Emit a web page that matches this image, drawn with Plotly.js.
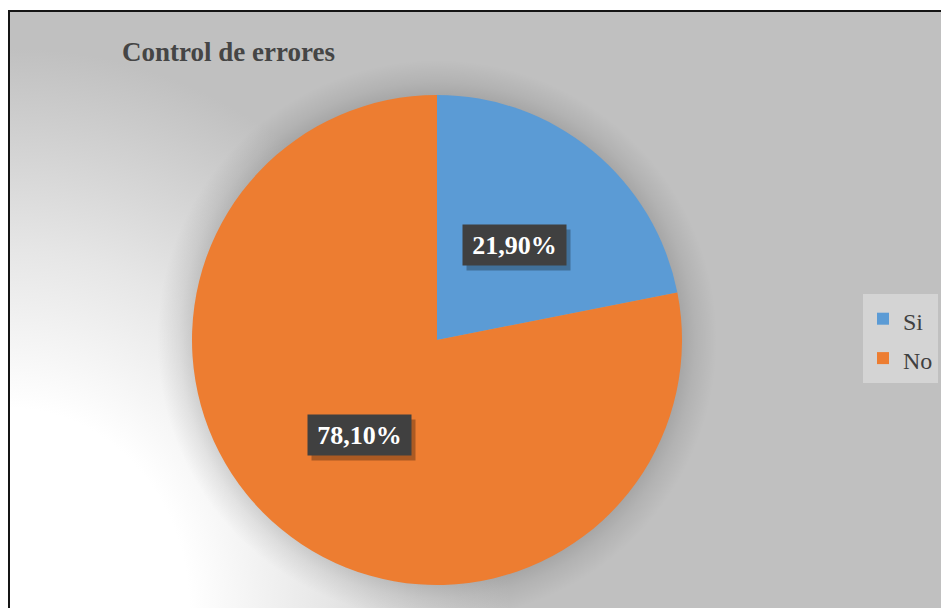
<!DOCTYPE html>
<html>
<head>
<meta charset="utf-8">
<script src="https://cdn.plot.ly/plotly-3.0.1.min.js"></script>
<style>
  html, body { margin:0; padding:0; width:941px; height:608px; overflow:hidden; background:#ffffff; }
  #bg {
    position:absolute; left:8px; top:10px; width:1000px; height:700px;
    border-left:2px solid #151515; border-top:2px solid #151515;
    background:
      radial-gradient(circle at 427px 328px, rgba(0,0,0,0.14) 243px, rgba(0,0,0,0.07) 258px, rgba(0,0,0,0) 280px),
      radial-gradient(ellipse 640px 720px at 0px 598px, #ffffff 0%, #ffffff 28%, #e6e6e6 50%, #c0c0c0 78%),
      #c0c0c0;
  }
  #chart { position:absolute; left:0; top:0; width:941px; height:608px; }
</style>
</head>
<body>
<div id="bg"></div>
<div id="chart"></div>
<script>
const chartTitle = 'Control de errores';
const categories = ['Si', 'No'];
const values = [21.9, 78.1];
const colors = ['#5b9bd5', '#ed7d31'];

const W = 941, H = 608;
const cxPx = 437, cyPx = 340, Rpx = 245;
const domX = [(cxPx - Rpx) / W, (cxPx + Rpx) / W];
const domY = [1 - (cyPx + Rpx) / H, 1 - (cyPx - Rpx) / H];

const total = values.reduce((a, b) => a + b, 0);
const annotations = [];
let cum = 0;
values.forEach((v, i) => {
  const mid = (cum + v / 2) / total * 2 * Math.PI;
  cum += v;
  const px = cxPx + 0.5 * Rpx * Math.sin(mid);
  const py = cyPx - 0.5 * Rpx * Math.cos(mid);
  const label = v.toFixed(2).replace('.', ',') + '%';
  const base = {
    xref: 'paper', yref: 'paper', x: px / W, y: 1 - py / H,
    xanchor: 'center', yanchor: 'middle', showarrow: false,
    width: 97, height: 34, borderpad: 3,
    font: { family: 'Liberation Serif, Times New Roman, serif', size: 26, color: '#ffffff' }
  };
  annotations.push(Object.assign({}, base, {
    text: '&nbsp;', xshift: 4, yshift: -5, bgcolor: 'rgba(0,0,0,0.28)'
  }));
  annotations.push(Object.assign({}, base, { text: '<b>' + label + '</b>', bgcolor: '#404040' }));
});

const trace = {
  type: 'pie',
  labels: categories.map(c => '<span style="font-size:24px">' + c + '</span>'),
  values: values,
  sort: false,
  direction: 'clockwise',
  rotation: 0,
  marker: { colors: colors, line: { width: 0 } },
  textinfo: 'none',
  hoverinfo: 'label+percent',
  domain: { x: domX, y: domY }
};

const layout = {
  width: W, height: H,
  margin: { l: 0, r: 0, t: 0, b: 0 },
  paper_bgcolor: 'rgba(0,0,0,0)',
  plot_bgcolor: 'rgba(0,0,0,0)',
  title: {
    text: '<b>' + chartTitle + '</b>',
    xref: 'paper', yref: 'paper', x: 122 / W, xanchor: 'left',
    y: 1 - 52 / H, yanchor: 'middle',
    font: { family: 'Liberation Serif, Times New Roman, serif', size: 27, color: '#454545' }
  },
  showlegend: true,
  legend: {
    x: 863 / W, xanchor: 'left', y: 1 - 294 / H, yanchor: 'top',
    bgcolor: '#d4d4d4', borderwidth: 0,
    font: { family: 'Liberation Serif, Times New Roman, serif', size: 28, color: '#404040' }
  },
  annotations: annotations
};

Plotly.newPlot('chart', [trace], layout, { displayModeBar: false, staticPlot: true });
</script>
</body>
</html>
